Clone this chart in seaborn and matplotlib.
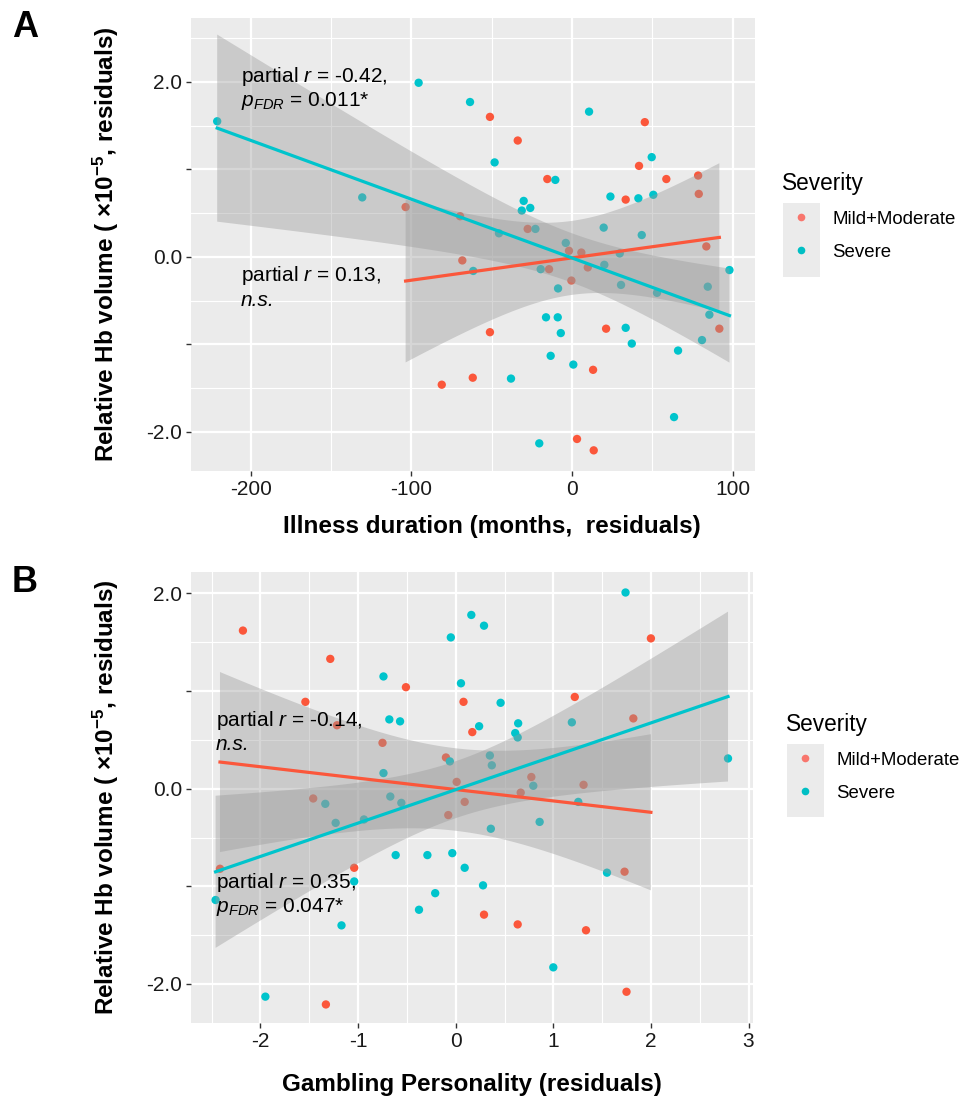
import numpy as np
import pandas as pd
import seaborn as sns
import matplotlib.pyplot as plt
from matplotlib.lines import Line2D
from matplotlib.patches import Rectangle

# panel A: illness duration (months, residuals) vs relative Hb volume
dur_mild_x = [-103.6, -69.7, -51.1, -33.8, -15.4, 45.3, 41.7, 58.7, 78.5, 78.9, 33.4, -27.6, 83.6, -1.9,
              5.8, -14.3, 9.8, -0.4, 91.7, -51.1, 21.2, 13.1, -61.8, 3.1, 13.5, -68.3, -81.1]
dur_mild_y = [0.57, 0.465, 1.60, 1.33, 0.89, 1.54, 1.04, 0.89, 0.93, 0.72, 0.655, 0.32, 0.12, 0.07,
              0.05, -0.14, -0.12, -0.27, -0.82, -0.86, -0.82, -1.29, -1.38, -2.08, -2.21, -0.04, -1.46]
dur_sev_x = [-220.9, -95.5, -63.5, -130.6, -48.2, -10.4, 10.6, 49.6, 23.9, 41.3, 50.6, -30.1, -31.3, -26.0,
             -22.8, -45.5, 19.7, 43.4, -3.9, 29.7, -61.5, -19.5, 20.1, -8.7, 30.5, 52.9, 84.5, 98.0,
             85.5, 80.9, -16.2, -8.9, -7.0, 33.4, 37.2, 66.0, -13.3, 0.8, -38.0, 63.5, -20.4]
dur_sev_y = [1.55, 1.99, 1.77, 0.68, 1.08, 0.88, 1.66, 1.14, 0.69, 0.67, 0.71, 0.64, 0.53, 0.56,
             0.32, 0.27, 0.335, 0.25, 0.16, 0.04, -0.16, -0.14, -0.09, -0.36, -0.32, -0.41, -0.34, -0.15,
             -0.66, -0.95, -0.69, -0.69, -0.87, -0.81, -0.99, -1.07, -1.13, -1.23, -1.39, -1.83, -2.13]

# panel B: gambling personality (residuals) vs relative Hb volume
gam_mild_x = [-2.18, -1.285, -0.51, -1.54, 0.08, 0.17, -1.216, -0.75, -0.10, 0.01, -1.46, 2.0, 1.22, 1.82,
              0.775, 1.31, 0.666, 1.73, 0.29, 0.635, 1.335, 1.75, -0.076, 0.092, -2.415, -1.04, -1.33]
gam_mild_y = [1.62, 1.33, 1.04, 0.89, 0.89, 0.58, 0.65, 0.47, 0.32, 0.07, -0.10, 1.54, 0.94, 0.72,
              0.12, 0.04, -0.04, -0.85, -1.29, -1.39, -1.45, -2.08, -0.27, -0.135, -0.82, -0.81, -2.21]
gam_sev_x = [-0.74, -0.68, -0.57, 0.16, -0.05, 0.054, 0.24, -0.06, -0.74, -0.67, 0.29, 1.74, 0.46, 0.64,
             0.61, 0.635, 1.19, 2.79, 0.35, 0.37, 0.795, 1.256, 0.36, 0.86, 1.55, 0.28, 1.0, -1.336,
             -0.557, -1.23, -0.94, -1.04, -0.615, -0.29, -0.035, 0.092, -0.21, -0.376, -1.17, -2.46, -1.95]
gam_sev_y = [1.15, 0.71, 0.69, 1.78, 1.55, 1.08, 0.64, 0.28, 0.16, -0.08, 1.67, 2.01, 0.88, 0.67,
             0.57, 0.525, 0.68, 0.31, 0.34, 0.24, 0.03, -0.135, -0.41, -0.34, -0.86, -0.99, -1.83, -0.155,
             -0.145, -0.35, -0.315, -0.95, -0.68, -0.68, -0.66, -0.81, -1.07, -1.24, -1.40, -1.14, -2.13]

severity = ['Mild+Moderate', 'Severe']
point_cols = {'Mild+Moderate': '#FB573B', 'Severe': '#00C4CC'}
legend_cols = {'Mild+Moderate': '#F8766D', 'Severe': '#00BFC4'}

y_ticks = [-2, -1, 0, 1, 2]
y_tick_labels = ['-2.0', '', '0.0', '', '2.0']
ylab = r'Relative Hb volume ( ×10$^{\mathbf{-5}}$, residuals)'

plt.rcParams['font.family'] = ['Liberation Sans', 'DejaVu Sans']
plt.rcParams['mathtext.fontset'] = 'custom'
plt.rcParams['mathtext.rm'] = 'Liberation Sans'
plt.rcParams['mathtext.it'] = 'Liberation Sans:italic'
plt.rcParams['mathtext.bf'] = 'Liberation Sans:bold'
plt.rcParams['axes.unicode_minus'] = False

W, H = 963, 1108
fig = plt.figure(figsize=(W / 100, H / 100), dpi=100)
axA = fig.add_axes([191 / W, 1 - 471 / H, 564 / W, 453 / H])
axB = fig.add_axes([191 / W, 1 - 1023 / H, 562 / W, 451 / H])


def ci_band(ax, x, y):
    # 95% confidence band of the linear fit (t-based, like geom_smooth(method='lm'))
    x = np.asarray(x, float)
    y = np.asarray(y, float)
    n = len(x)
    slope, icpt = np.polyfit(x, y, 1)
    grid = np.linspace(x.min(), x.max(), 120)
    resid = y - (icpt + slope * x)
    s = np.sqrt((resid ** 2).sum() / (n - 2))
    se = s * np.sqrt(1 / n + (grid - x.mean()) ** 2 / ((x - x.mean()) ** 2).sum())
    df = n - 2
    z = 1.959964
    t = z + (z ** 3 + z) / (4 * df) + (5 * z ** 5 + 16 * z ** 3 + 3 * z) / (96 * df ** 2)
    fit = icpt + slope * grid
    ax.fill_between(grid, fit - t * se, fit + t * se, facecolor='#999999', alpha=0.4,
                    edgecolor='none', zorder=3)


def draw_panel(ax, mx, my, sx, sy):
    df = pd.DataFrame({'x': mx + sx, 'y': my + sy,
                       'Severity': [severity[0]] * len(mx) + [severity[1]] * len(sx)})
    sns.scatterplot(data=df, x='x', y='y', hue='Severity', hue_order=severity, palette=point_cols,
                    s=36, linewidth=0, legend=False, ax=ax, zorder=2)
    for grp in severity:
        sub = df[df['Severity'] == grp]
        ci_band(ax, sub['x'], sub['y'])
        sns.regplot(data=sub, x='x', y='y', ax=ax, scatter=False, ci=None,
                    color=point_cols[grp], line_kws={'lw': 2.3, 'zorder': 4})


def style_axes(ax, xlim, ylim, xticks, xtick_labels, xminor, yminor):
    ax.set_facecolor('#EBEBEB')
    for s in ax.spines.values():
        s.set_visible(False)
    ax.set_xticks(xticks)
    ax.set_xticklabels(xtick_labels)
    ax.set_xticks(xminor, minor=True)
    ax.set_yticks(y_ticks)
    ax.set_yticklabels(y_tick_labels)
    ax.set_yticks(yminor, minor=True)
    ax.set_xlim(xlim)
    ax.set_ylim(ylim)
    ax.grid(which='major', color='white', lw=1.6)
    ax.grid(which='minor', color='white', lw=0.8)
    ax.set_axisbelow(True)
    ax.tick_params(which='major', length=3.5, width=1.0, color='#333333', labelsize=15,
                   labelcolor='#1a1a1a', pad=3)
    ax.tick_params(which='minor', length=0)


def add_legend(ax, left_px, top_px, box):
    handles = [Line2D([], [], ls='none', marker='o', ms=5.5, mec='none', mfc=legend_cols[g]) for g in severity]
    ax.legend(handles, severity, title='Severity', loc='upper left',
              bbox_to_anchor=(left_px / W, 1 - top_px / H), bbox_transform=fig.transFigure,
              frameon=False, borderpad=0, borderaxespad=0, handlelength=2.0, handletextpad=0.7,
              labelspacing=0.85, fontsize=13.4, title_fontsize=16.3, alignment='left')
    x0, y0, x1, y1 = box
    fig.add_artist(Rectangle((x0 / W, 1 - y1 / H), (x1 - x0) / W, (y1 - y0) / H,
                             transform=fig.transFigure, facecolor='#EBEBEB', edgecolor='none', zorder=-1))


# ---- panel A
draw_panel(axA, dur_mild_x, dur_mild_y, dur_sev_x, dur_sev_y)
style_axes(axA, (-237.2, 113.9), (-2.446, 2.73), [-200, -100, 0, 100], ['-200', '-100', '0', '100'],
           [-250, -150, -50, 50], [-2.5, -1.5, -0.5, 0.5, 1.5, 2.5])
axA.set_xlabel('Illness duration (months,  residuals)', fontsize=17.5, weight='bold')
axA.xaxis.set_label_coords(0.534, -0.098)
axA.set_ylabel(ylab, fontsize=17.5, weight='bold')
axA.yaxis.set_label_coords(-0.124, 0.5)
axA.text(-206, 2.00, r'partial $\mathit{r}$ = -0.42,', fontsize=15, va='baseline')
axA.text(-206, 1.72, r'$p_{FDR}$ = 0.011*', fontsize=15, va='baseline')
axA.text(-206, -0.28, r'partial $\mathit{r}$ = 0.13,', fontsize=15, va='baseline')
axA.text(-206, -0.56, 'n.s.', fontsize=15, va='baseline', style='italic')
add_legend(axA, 782, 172, (783, 203, 820, 277))

# ---- panel B
draw_panel(axB, gam_mild_x, gam_mild_y, gam_sev_x, gam_sev_y)
style_axes(axB, (-2.712, 3.046), (-2.40, 2.22), [-2, -1, 0, 1, 2, 3], ['-2', '-1', '0', '1', '2', '3'],
           [-2.5, -1.5, -0.5, 0.5, 1.5, 2.5], [-1.5, -0.5, 0.5, 1.5])
axB.set_xlabel('Gambling Personality (residuals)', fontsize=17.5, weight='bold')
axB.xaxis.set_label_coords(0.5, -0.111)
axB.set_ylabel(ylab, fontsize=17.5, weight='bold')
axB.yaxis.set_label_coords(-0.1246, 0.5)
axB.text(-2.459, 0.643, r'partial $\mathit{r}$ = -0.14,', fontsize=15, va='baseline')
axB.text(-2.459, 0.40, 'n.s.', fontsize=15, va='baseline', style='italic')
axB.text(-2.459, -1.016, r'partial $\mathit{r}$ = 0.35,', fontsize=15, va='baseline')
axB.text(-2.459, -1.26, r'$p_{FDR}$ = 0.047*', fontsize=15, va='baseline')
add_legend(axB, 786, 713, (787, 744, 824, 817))

fig.text(12 / W, 1 - 10 / H, 'A', fontsize=26, weight='bold', va='top', ha='left')
fig.text(12 / W, 1 - 565 / H, 'B', fontsize=26, weight='bold', va='top', ha='left')

fig.savefig('out.png', dpi=100)
